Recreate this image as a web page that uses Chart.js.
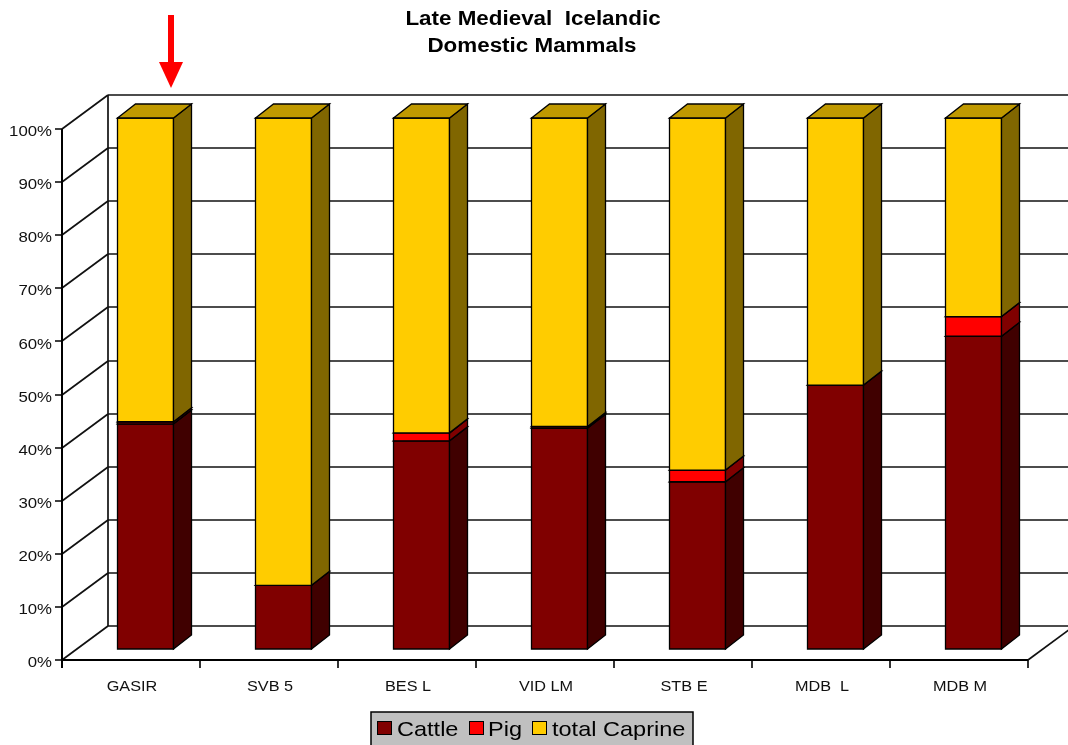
<!DOCTYPE html>
<html>
<head>
<meta charset="utf-8">
<script src="https://cdn.jsdelivr.net/npm/chart.js@4.4.1/dist/chart.umd.min.js"></script>
<style>
  html, body { margin: 0; padding: 0; background: #fff; }
  canvas { display: block; }
</style>
</head>
<body>
<canvas id="mammals" width="1068" height="745"></canvas>
<script>
const categories = ['GASIR', 'SVB 5', 'BES L', 'VID LM', 'STB E', 'MDB  L', 'MDB M'];
const cattle  = [42.4, 12.0, 39.2, 41.6, 31.5, 49.7, 58.9];
const pig     = [0.4, 0, 1.5, 0.3, 2.2, 0, 3.7];
const caprine = [57.2, 88.0, 59.3, 58.1, 66.3, 50.3, 37.4];
const yTicks  = [0, 10, 20, 30, 40, 50, 60, 70, 80, 90, 100];
const seriesNames = ['Cattle', 'Pig', 'total Caprine'];

// front, side and top shades for each series
const shades = [
    { front: '#800000', side: '#400000', top: '#600000' },
    { front: '#ff0000', side: '#800000', top: '#c00000' },
    { front: '#ffcc00', side: '#806600', top: '#c09900' }
];

const WALL = { dx: 46, dy: -34 };   // depth of the floor / side wall
const BAR  = { dx: 18, dy: -14 };   // depth of each column
const SHIFT = { dx: 15, dy: -11 };  // columns sit part way into the floor
const TEXT_STRETCH = 1.12;

function stretchedText(ctx, text, x, y, font, align) {
    ctx.save();
    ctx.font = font;
    ctx.textAlign = align;
    ctx.translate(x, y);
    ctx.scale(TEXT_STRETCH, 1);
    ctx.fillText(text, 0, 0);
    ctx.restore();
}

function poly(ctx, pts, fill) {
    ctx.beginPath();
    ctx.moveTo(pts[0][0], pts[0][1]);
    for (let i = 1; i < pts.length; i++) ctx.lineTo(pts[i][0], pts[i][1]);
    ctx.closePath();
    ctx.fillStyle = fill;
    ctx.fill();
    ctx.stroke();
}

function drawBox(ctx, x1, x2, yTop, yBot, col) {
    const dx = BAR.dx, dy = BAR.dy;
    poly(ctx, [[x1, yBot], [x2, yBot], [x2, yTop], [x1, yTop]], col.front);
    poly(ctx, [[x2, yBot], [x2 + dx, yBot + dy], [x2 + dx, yTop + dy], [x2, yTop]], col.side);
    poly(ctx, [[x1, yTop], [x1 + dx, yTop + dy], [x2 + dx, yTop + dy], [x2, yTop]], col.top);
}

const frame3d = {
    id: 'frame3d',
    beforeDatasetsDraw(chart) {
        const ctx = chart.ctx;
        const area = chart.chartArea;
        const y = chart.scales.y;
        const W = chart.width;

        ctx.save();
        ctx.strokeStyle = '#111';
        ctx.lineWidth = 1.7;
        // back wall gridlines and side wall diagonals
        yTicks.forEach(v => {
            const py = Math.round(y.getPixelForValue(v));
            ctx.beginPath();
            ctx.moveTo(area.left + WALL.dx, py + WALL.dy);
            ctx.lineTo(W, py + WALL.dy);
            ctx.stroke();
            ctx.beginPath();
            ctx.moveTo(area.left, py);
            ctx.lineTo(area.left + WALL.dx, py + WALL.dy);
            ctx.stroke();
        });
        // back wall left edge
        ctx.beginPath();
        ctx.moveTo(area.left + WALL.dx, y.getPixelForValue(100) + WALL.dy);
        ctx.lineTo(area.left + WALL.dx, y.getPixelForValue(0) + WALL.dy);
        ctx.stroke();
        // floor right edge
        ctx.beginPath();
        ctx.moveTo(area.right, area.bottom);
        ctx.lineTo(area.right + WALL.dx, area.bottom + WALL.dy);
        ctx.stroke();
        ctx.restore();
    },
    afterDatasetsDraw(chart) {
        const ctx = chart.ctx;
        const area = chart.chartArea;
        const x = chart.scales.x;
        const y = chart.scales.y;

        // columns, bottom segment first
        ctx.save();
        ctx.strokeStyle = '#000';
        ctx.lineWidth = 1.3;
        ctx.lineJoin = 'miter';
        for (let i = 0; i < categories.length; i++) {
            chart.data.datasets.forEach((ds, d) => {
                const el = chart.getDatasetMeta(d).data[i];
                const p = el.getProps(['x', 'y', 'base', 'width'], true);
                if (Math.abs(p.base - p.y) < 0.01) return;
                const x1 = Math.round(p.x - p.width / 2 + SHIFT.dx) - 0.5;
                const x2 = Math.round(p.x + p.width / 2 + SHIFT.dx) - 0.5;
                drawBox(ctx, x1, x2, p.y + SHIFT.dy, p.base + SHIFT.dy, shades[d]);
            });
        }
        ctx.restore();

        // front axes
        ctx.save();
        ctx.strokeStyle = '#000';
        ctx.lineWidth = 2;
        ctx.beginPath();
        ctx.moveTo(area.left, y.getPixelForValue(100));
        ctx.lineTo(area.left, area.bottom + 8);
        ctx.moveTo(area.left, area.bottom);
        ctx.lineTo(area.right, area.bottom);
        ctx.stroke();
        ctx.lineWidth = 1.6;
        ctx.beginPath();
        yTicks.forEach(v => {
            const py = Math.round(y.getPixelForValue(v));
            ctx.moveTo(area.left - 7, py);
            ctx.lineTo(area.left, py);
        });
        const step = (area.right - area.left) / categories.length;
        for (let k = 1; k <= categories.length; k++) {
            const px = Math.round(area.left + k * step);
            ctx.moveTo(px, area.bottom);
            ctx.lineTo(px, area.bottom + 8);
        }
        ctx.stroke();

        // tick labels
        ctx.fillStyle = '#111';
        ctx.textBaseline = 'middle';
        yTicks.forEach(v => {
            stretchedText(ctx, v + '%', area.left - 10, y.getPixelForValue(v) + 3,
                '15px "Liberation Sans", Arial, sans-serif', 'right');
        });
        categories.forEach((c, i) => {
            stretchedText(ctx, c, x.getPixelForValue(i) + 1, area.bottom + 27,
                '14.5px "Liberation Sans", Arial, sans-serif', 'center');
        });

        // title
        ctx.fillStyle = '#000';
        stretchedText(ctx, 'Late Medieval  Icelandic', 533, 19,
            'bold 20px "Liberation Sans", Arial, sans-serif', 'center');
        stretchedText(ctx, 'Domestic Mammals', 532, 46,
            'bold 20px "Liberation Sans", Arial, sans-serif', 'center');

        // legend
        ctx.fillStyle = '#c0c0c0';
        ctx.fillRect(371, 712, 322, 34);
        ctx.lineWidth = 1.5;
        ctx.strokeRect(371, 712, 322, 34);
        const keys = [377, 469, 532];
        const labelsX = [397, 488, 552];
        seriesNames.forEach((name, i) => {
            ctx.fillStyle = shades[i].front;
            ctx.fillRect(keys[i] + 0.5, 721.5, 14, 13);
            ctx.lineWidth = 1;
            ctx.strokeRect(keys[i] + 0.5, 721.5, 14, 13);
            ctx.fillStyle = '#000';
            stretchedText(ctx, name, labelsX[i], 730,
                '21px "Liberation Sans", Arial, sans-serif', 'left');
        });

        // red marker arrow
        ctx.fillStyle = '#ff0000';
        ctx.fillRect(168, 15, 6, 48);
        ctx.beginPath();
        ctx.moveTo(159, 62);
        ctx.lineTo(183, 62);
        ctx.lineTo(171, 88);
        ctx.closePath();
        ctx.fill();
        ctx.restore();
    }
};

new Chart(document.getElementById('mammals'), {
    type: 'bar',
    data: {
        labels: categories,
        datasets: [
            { label: seriesNames[0], data: cattle },
            { label: seriesNames[1], data: pig },
            { label: seriesNames[2], data: caprine }
        ].map(ds => Object.assign(ds, {
            backgroundColor: 'rgba(0,0,0,0)',
            borderWidth: 0,
            categoryPercentage: 1.0,
            barPercentage: 0.406
        }))
    },
    options: {
        responsive: false,
        devicePixelRatio: 1,
        animation: false,
        layout: { padding: { left: 62, right: 40, top: 129, bottom: 85 } },
        plugins: {
            legend: { display: false },
            tooltip: { enabled: false },
            title: { display: false }
        },
        scales: {
            x: { display: false, stacked: true },
            y: { display: false, stacked: true, min: 0, max: 100 }
        }
    },
    plugins: [frame3d]
});
</script>
</body>
</html>
